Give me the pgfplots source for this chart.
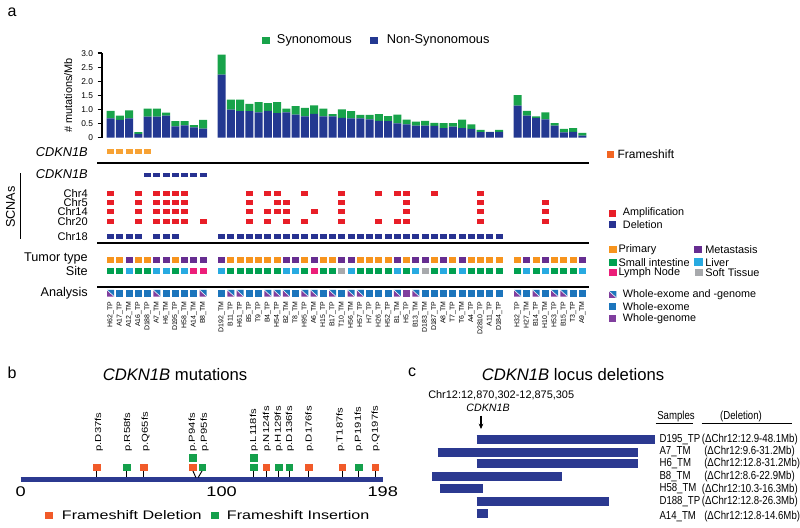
\documentclass[border=0pt]{standalone}
\usepackage{pgfplots}
\usepackage{pgfplotstable}
\pgfplotsset{compat=1.18}
\usetikzlibrary{arrows.meta}
\usepackage{fontspec}
\setmainfont{Liberation Sans}
\newfontfamily\widefont[FakeStretch=1.3]{Liberation Sans}
\newfontfamily\narrowfont[FakeStretch=0.83]{Liberation Sans}
\newcommand{\fsz}[1]{\fontsize{#1pt}{#1pt}\selectfont}

\definecolor{nonsyn}{RGB}{35,56,145}
\definecolor{syn}{RGB}{24,163,74}
\definecolor{fsorange}{RGB}{247,162,52}
\definecolor{fslegend}{RGB}{242,101,34}
\definecolor{ampred}{RGB}{232,30,40}
\definecolor{delblue}{RGB}{40,50,145}
\definecolor{primary}{RGB}{247,148,29}
\definecolor{metast}{RGB}{102,45,145}
\definecolor{smallint}{RGB}{0,160,80}
\definecolor{liver}{RGB}{39,170,225}
\definecolor{lymph}{RGB}{236,30,121}
\definecolor{soft}{RGB}{167,169,172}
\definecolor{wexome}{RGB}{28,117,188}
\definecolor{wgenome}{RGB}{128,62,158}
\definecolor{fsdel}{RGB}{241,90,41}
\definecolor{fsins}{RGB}{20,160,75}
\definecolor{protein}{RGB}{43,57,144}

\pgfdeclareplotmark{cellS}{\pgfpathrectangle{\pgfpoint{-2.55pt}{-1.8pt}}{\pgfpoint{5.1pt}{3.6pt}}\pgfusepathqfill}
\pgfdeclareplotmark{cellL}{\pgfpathrectangle{\pgfpoint{-2.7pt}{-2.5pt}}{\pgfpoint{5.4pt}{5pt}}\pgfusepathqfill}
\pgfdeclareplotmark{legsq}{\pgfpathrectangle{\pgfpoint{-3.2pt}{-2.7pt}}{\pgfpoint{6.4pt}{5.4pt}}\pgfusepathqfill}
\pgfdeclareplotmark{split}{%
  \pgfsetfillcolor{wgenome}%
  \pgfpathmoveto{\pgfpoint{-2.7pt}{2.5pt}}\pgfpathlineto{\pgfpoint{-2.7pt}{-2.5pt}}\pgfpathlineto{\pgfpoint{2.7pt}{-2.5pt}}\pgfpathclose\pgfusepathqfill
  \pgfsetfillcolor{wexome}%
  \pgfpathmoveto{\pgfpoint{-2.7pt}{2.5pt}}\pgfpathlineto{\pgfpoint{2.7pt}{2.5pt}}\pgfpathlineto{\pgfpoint{2.7pt}{-2.5pt}}\pgfpathclose\pgfusepathqfill
  \pgfsetstrokecolor{white}\pgfsetlinewidth{0.4pt}%
  \pgfpathmoveto{\pgfpoint{-2.7pt}{2.5pt}}\pgfpathlineto{\pgfpoint{2.7pt}{-2.5pt}}\pgfusepathqstroke
}

\pgfplotstableread{
x ns s
0 0.69 0.26
1 0.63 0.15
2 0.69 0.28
3 0.14 0.06
4 0.75 0.28
5 0.75 0.28
6 0.78 0.11
7 0.40 0.19
8 0.44 0.15
9 0.37 0.08
10 0.32 0.31
12 2.24 0.71
13 1.00 0.35
14 0.94 0.41
15 0.94 0.26
16 0.90 0.36
17 0.95 0.28
18 0.87 0.39
19 0.90 0.13
20 0.82 0.30
21 0.76 0.30
22 0.85 0.30
23 0.76 0.27
24 0.76 0.08
25 0.70 0.31
26 0.69 0.25
27 0.69 0.12
28 0.65 0.16
29 0.60 0.24
30 0.59 0.18
31 0.51 0.31
32 0.47 0.17
33 0.43 0.14
34 0.43 0.17
35 0.42 0.11
36 0.34 0.18
37 0.39 0.13
38 0.34 0.30
39 0.31 0.16
40 0.20 0.08
41 0.20 0.01
42 0.21 0.07
44 1.14 0.37
45 0.78 0.17
46 0.70 0.06
47 0.65 0.25
48 0.43 0.09
49 0.19 0.12
50 0.21 0.13
51 0.07 0.10
}\bardata

\begin{document}
\begin{tikzpicture}
\useasboundingbox (0,0) rectangle (600pt,396pt);

% ---------------- canvas (pixel coordinates) ----------------
\begin{axis}[at={(0pt,0pt)}, anchor=south west, scale only axis,
  width=600pt, height=396pt, xmin=0, xmax=800, ymin=0, ymax=528,
  y dir=reverse, hide axis, clip=false]
% panel letters
\node[font=\fsz{12}] at (axis cs:12,12) {a};
\node[font=\fsz{12}] at (axis cs:12,373) {b};
\node[font=\fsz{12}] at (axis cs:412,372) {c};
% top legend
\addplot[only marks, mark=legsq, color=syn] coordinates {(265.8,40.8)};
\addplot[only marks, mark=legsq, color=nonsyn] coordinates {(374,40.8)};
\node[anchor=west, inner sep=0pt, font=\fsz{9.6}] at (axis cs:276.7,40.8) {Synonomous};
\node[anchor=west, inner sep=0pt, font=\fsz{9.6}] at (axis cs:386.7,40.8) {Non-Synonomous};
% row labels
\node[anchor=east, inner sep=0pt, font=\fsz{9.6}\itshape] at (axis cs:88,152) {CDKN1B};
\node[anchor=east, inner sep=0pt, font=\fsz{9.6}\itshape] at (axis cs:88,174.5) {CDKN1B};
\node[anchor=east, inner sep=0pt, font=\fsz{8.3}] at (axis cs:88,193.3) {Chr4};
\node[anchor=east, inner sep=0pt, font=\fsz{8.3}] at (axis cs:88,202.6) {Chr5};
\node[anchor=east, inner sep=0pt, font=\fsz{8.3}] at (axis cs:88,211.9) {Chr14};
\node[anchor=east, inner sep=0pt, font=\fsz{8.3}] at (axis cs:88,221.2) {Chr20};
\node[anchor=east, inner sep=0pt, font=\fsz{8.3}] at (axis cs:88,236.7) {Chr18};
\node[anchor=east, inner sep=0pt, font=\fsz{9.5}] at (axis cs:88,258.5) {Tumor type};
\node[anchor=east, inner sep=0pt, font=\fsz{9.5}] at (axis cs:88,271) {Site};
\node[anchor=east, inner sep=0pt, font=\fsz{9.5}] at (axis cs:88,293.3) {Analysis};
\node[rotate=90, inner sep=0pt, font=\fsz{9.5}] at (axis cs:10.5,207) {SCNAs};
\draw[line width=0.6pt] (axis cs:20.7,173) -- (axis cs:20.7,239.3);
% right legends panel a
\addplot[only marks, mark=square*, mark size=2.2pt, color=fslegend] coordinates {(610,154)};
\node[anchor=west, inner sep=0pt, font=\fsz{9}] at (axis cs:617.3,154) {Frameshift};
\addplot[only marks, mark=square*, mark size=2.4pt, color=ampred] coordinates {(612.2,213)};
\addplot[only marks, mark=square*, mark size=2.4pt, color=delblue] coordinates {(612.2,224.5)};
\node[anchor=west, inner sep=0pt, font=\fsz{8.1}] at (axis cs:622.7,212.7) {Amplification};
\node[anchor=west, inner sep=0pt, font=\fsz{8.1}] at (axis cs:622.7,224.7) {Deletion};
\addplot[only marks, mark=legsq, color=primary] coordinates {(612.8,249.7)};
\addplot[only marks, mark=legsq, color=smallint] coordinates {(612.8,262.4)};
\addplot[only marks, mark=legsq, color=lymph] coordinates {(612.8,272.7)};
\addplot[only marks, mark=legsq, color=metast] coordinates {(697.8,249.7)};
\addplot[only marks, mark=legsq, color=liver] coordinates {(698.3,262)};
\addplot[only marks, mark=legsq, color=soft] coordinates {(698.8,272.7)};
\node[anchor=west, inner sep=0pt, font=\fsz{8.2}] at (axis cs:618.3,250) {Primary};
\node[anchor=west, inner sep=0pt, font=\fsz{8.2}] at (axis cs:618.3,262.5) {Small intestine};
\node[anchor=west, inner sep=0pt, font=\fsz{8.2}] at (axis cs:618.3,272.9) {Lymph Node};
\node[anchor=west, inner sep=0pt, font=\fsz{8.2}] at (axis cs:705,250) {Metastasis};
\node[anchor=west, inner sep=0pt, font=\fsz{8.2}] at (axis cs:705,262.5) {Liver};
\node[anchor=west, inner sep=0pt, font=\fsz{8.2}] at (axis cs:705,272.9) {Soft Tissue};
\addplot[only marks, mark=split] coordinates {(612.8,294.5)};
\addplot[only marks, mark=cellL, color=wexome] coordinates {(612.8,306.7)};
\addplot[only marks, mark=cellL, color=wgenome] coordinates {(612.8,318.3)};
\node[anchor=west, inner sep=0pt, font=\fsz{8.1}] at (axis cs:622.7,294.5) {Whole-exome and -genome};
\node[anchor=west, inner sep=0pt, font=\fsz{8.1}] at (axis cs:622.7,306.7) {Whole-exome};
\node[anchor=west, inner sep=0pt, font=\fsz{8.1}] at (axis cs:622.7,318.3) {Whole-genome};
% panel b title, labels, legend
\node[font=\fsz{12.5}] at (axis cs:175,375) {\textit{CDKN1B} mutations};
\node[rotate=90, anchor=west, inner sep=0pt, font=\widefont\fsz{6.5}] at (axis cs:99,451.7) {p.D37fs};
\node[rotate=90, anchor=west, inner sep=0pt, font=\widefont\fsz{6.5}] at (axis cs:128,451.7) {p.R58fs};
\node[rotate=90, anchor=west, inner sep=0pt, font=\widefont\fsz{6.5}] at (axis cs:145.7,451.7) {p.Q65fs};
\node[rotate=90, anchor=west, inner sep=0pt, font=\widefont\fsz{6.5}] at (axis cs:192.7,451.7) {p.P94fs};
\node[rotate=90, anchor=west, inner sep=0pt, font=\widefont\fsz{6.5}] at (axis cs:204.7,451.7) {p.P95fs};
\node[rotate=90, anchor=west, inner sep=0pt, font=\widefont\fsz{6.5}] at (axis cs:254,451.7) {p.L118fs};
\node[rotate=90, anchor=west, inner sep=0pt, font=\widefont\fsz{6.5}] at (axis cs:267,451.7) {p.N124fs};
\node[rotate=90, anchor=west, inner sep=0pt, font=\widefont\fsz{6.5}] at (axis cs:278.7,451.7) {p.H129fs};
\node[rotate=90, anchor=west, inner sep=0pt, font=\widefont\fsz{6.5}] at (axis cs:290,451.7) {p.D136fs};
\node[rotate=90, anchor=west, inner sep=0pt, font=\widefont\fsz{6.5}] at (axis cs:309.3,451.7) {p.D176fs};
\node[rotate=90, anchor=west, inner sep=0pt, font=\widefont\fsz{6.5}] at (axis cs:340.3,451.7) {p.T187fs};
\node[rotate=90, anchor=west, inner sep=0pt, font=\widefont\fsz{6.5}] at (axis cs:358.7,451.7) {p.P191fs};
\node[rotate=90, anchor=west, inner sep=0pt, font=\widefont\fsz{6.5}] at (axis cs:375.7,451.7) {p.Q197fs};
\addplot[only marks, mark=legsq, color=fsdel] coordinates {(49.2,515.5)};
\addplot[only marks, mark=legsq, color=fsins] coordinates {(215,515.5)};
\node[anchor=west, inner sep=0pt, font=\widefont\fsz{9.3}] at (axis cs:61.7,515.5) {Frameshift Deletion};
\node[anchor=west, inner sep=0pt, font=\widefont\fsz{9.3}] at (axis cs:226.7,515.5) {Frameshift Insertion};
% panel c
\node[font=\fsz{12.5}] at (axis cs:573,375) {\textit{CDKN1B} locus deletions};
\node[anchor=west, inner sep=0pt, font=\fsz{8.2}] at (axis cs:428,395) {Chr12:12,870,302-12,875,305};
\node[inner sep=0pt, font=\fsz{8}\itshape] at (axis cs:488,408) {CDKN1B};
\draw[-{Stealth[length=4pt,width=3.5pt]}, line width=0.8pt] (axis cs:481,415.5) -- (axis cs:481,429);
\addplot[protein, line width=6.75pt] coordinates {(476.7,439.5) (655,439.5)};
\addplot[protein, line width=6.75pt] coordinates {(437.7,452) (637.7,452)};
\addplot[protein, line width=6.75pt] coordinates {(476.7,463.5) (637.7,463.5)};
\addplot[protein, line width=6.75pt] coordinates {(432,476) (561.7,476)};
\addplot[protein, line width=6.75pt] coordinates {(440,488.8) (483.3,488.8)};
\addplot[protein, line width=6.75pt] coordinates {(476.7,501) (609,501)};
\addplot[protein, line width=6.75pt] coordinates {(476.7,513.7) (487.7,513.7)};
\node[anchor=west, inner sep=0pt, font=\narrowfont\fsz{8.7}] at (axis cs:657,416.7) {Samples};
\node[inner sep=0pt, font=\narrowfont\fsz{8.7}] at (axis cs:741,416.7) {(Deletion)};
\draw[line width=0.6pt] (axis cs:655.7,423) -- (axis cs:693,423);
\draw[line width=0.6pt] (axis cs:701.7,423) -- (axis cs:791.7,423);
\node[anchor=west, inner sep=0pt, font=\narrowfont\fsz{8.7}] at (axis cs:659.3,439.3) {D195\_TP};
\node[anchor=west, inner sep=0pt, font=\narrowfont\fsz{8.7}] at (axis cs:701.7,439.3) {(ΔChr12:12.9-48.1Mb)};
\node[anchor=west, inner sep=0pt, font=\narrowfont\fsz{8.7}] at (axis cs:659.3,451.7) {A7\_TM};
\node[anchor=west, inner sep=0pt, font=\narrowfont\fsz{8.7}] at (axis cs:704,451.7) {(ΔChr12:9.6-31.2Mb)};
\node[anchor=west, inner sep=0pt, font=\narrowfont\fsz{8.7}] at (axis cs:659.3,463.3) {H6\_TM};
\node[anchor=west, inner sep=0pt, font=\narrowfont\fsz{8.7}] at (axis cs:704,463.3) {(ΔChr12:12.8-31.2Mb)};
\node[anchor=west, inner sep=0pt, font=\narrowfont\fsz{8.7}] at (axis cs:659.3,476.7) {B8\_TM};
\node[anchor=west, inner sep=0pt, font=\narrowfont\fsz{8.7}] at (axis cs:704,476.7) {(ΔChr12:8.6-22.9Mb)};
\node[anchor=west, inner sep=0pt, font=\narrowfont\fsz{8.7}] at (axis cs:659.3,489) {H58\_TM};
\node[anchor=west, inner sep=0pt, font=\narrowfont\fsz{8.7}] at (axis cs:701.7,489) {(ΔChr12:10.3-16.3Mb)};
\node[anchor=west, inner sep=0pt, font=\narrowfont\fsz{8.7}] at (axis cs:659.3,501.3) {D188\_TP};
\node[anchor=west, inner sep=0pt, font=\narrowfont\fsz{8.7}] at (axis cs:701.7,501.3) {(ΔChr12:12.8-26.3Mb)};
\node[anchor=west, inner sep=0pt, font=\narrowfont\fsz{8.7}] at (axis cs:659.3,516.7) {A14\_TM};
\node[anchor=west, inner sep=0pt, font=\narrowfont\fsz{8.7}] at (axis cs:704,516.7) {(ΔChr12:12.8-14.6Mb)};
\end{axis}

% ---------------- bar chart ----------------
\begin{axis}[at={(76.275pt,292.725pt)}, anchor=south west, scale only axis,
  width=363.975pt, height=63.3pt, xmin=-0.965, xmax=51.5, ymin=0, ymax=3,
  ybar stacked, bar width=0.86,
  axis x line=none, axis y line*=left,
  y axis line style={line width=1.6pt},
  ytick={0,0.5,1,1.5,2,2.5,3}, yticklabels={0,0.5,1.0,1.5,2.0,2.5,3.0},
  tick align=outside, major tick length=3pt,
  ytick style={line width=1.2pt, black},
  yticklabel style={font=\fsz{6.3}},
  ylabel={\# mutations/Mb}, ylabel style={font=\fsz{8.2}},
  clip=false]
\addplot[fill=nonsyn, draw=none] table[x=x, y=ns] {\bardata};
\addplot[fill=syn, draw=none] table[x=x, y=s] {\bardata};
\end{axis}

% ---------------- oncoprint ----------------
\begin{axis}[at={(72.75pt,286.5pt)}, anchor=north west, scale only axis,
  width=369pt, height=115.5pt, xmin=-1.473, xmax=51.716, ymin=146, ymax=300,
  y dir=reverse, axis line style={draw=none}, ytick=\empty,
  xtick={0,1,...,10,12,13,...,42,44,45,...,51},
  xticklabels={H62\_TP,A17\_TP,A12\_TM,A16\_TP,D188\_TP,A7\_TM,H6\_TM,D195\_TP,H58\_TM,A14\_TM,B8\_TM,D192\_TM,B11\_TP,H61\_TP,B5\_TP,T9\_TP,B4\_TP,H54\_TP,B2\_TM,T8\_TM,H95\_TP,A6\_TM,H15\_TP,B17\_TP,T10\_TM,H56\_TM,H57\_TP,H7\_TP,H26\_TP,H52\_TP,B1\_TM,H5\_TP,B13\_TM,D183\_TM,D187\_TP,A8\_TM,T7\_TP,T6\_TM,A4\_TP,D2810\_TP,A11\_TP,D184\_TP,H32\_TP,H27\_TM,B14\_TP,H10\_TM,H53\_TP,B15\_TP,T3\_TP,A9\_TM},
  major tick length=0,
  xticklabel style={rotate=90, anchor=east, font=\fsz{5.2}, inner sep=1pt},
  clip=false]
% separators
\addplot[black, line width=1.3pt] coordinates {(-1.473,162.7) (51.716,162.7)};
\addplot[black, line width=1.3pt] coordinates {(-1.473,242.7) (51.716,242.7)};
\addplot[black, line width=1.3pt] coordinates {(-1.473,286.7) (51.716,286.7)};
% CDKN1B mutation
\addplot[only marks, mark=cellS, color=fsorange] coordinates {(0,151.7)(1,151.7)(2,151.7)(3,151.7)(4,151.7)};
% CDKN1B deletion
\addplot[only marks, mark=cellS, color=delblue] coordinates {(4,175)(5,175)(6,175)(7,175)(8,175)(9,175)(10,175)};
% Chr4
\addplot[only marks, mark=cellS, color=ampred] coordinates {(0,193.3)(3,193.3)(5,193.3)(6,193.3)(7,193.3)(8,193.3)(15,193.3)(17,193.3)(18,193.3)(21,193.3)(25,193.3)(29,193.3)(31,193.3)(32,193.3)(35,193.3)(40,193.3)};
% Chr5
\addplot[only marks, mark=cellS, color=ampred] coordinates {(0,202.6)(3,202.6)(5,202.6)(6,202.6)(7,202.6)(8,202.6)(15,202.6)(18,202.6)(19,202.6)(25,202.6)(32,202.6)(40,202.6)(47,202.6)};
% Chr14
\addplot[only marks, mark=cellS, color=ampred] coordinates {(0,211.9)(3,211.9)(5,211.9)(6,211.9)(7,211.9)(8,211.9)(15,211.9)(17,211.9)(18,211.9)(19,211.9)(22,211.9)(25,211.9)(32,211.9)(40,211.9)(47,211.9)};
% Chr20
\addplot[only marks, mark=cellS, color=ampred] coordinates {(0,221.2)(3,221.2)(5,221.2)(6,221.2)(7,221.2)(8,221.2)(10,221.2)(15,221.2)(17,221.2)(19,221.2)(21,221.2)(25,221.2)(29,221.2)(31,221.2)(32,221.2)(40,221.2)(47,221.2)};
% Chr18
\addplot[only marks, mark=cellS, color=delblue] coordinates {(0,236.7)(1,236.7)(2,236.7)(3,236.7)(5,236.7)(6,236.7)(7,236.7)(12,236.7)(13,236.7)(14,236.7)(15,236.7)(16,236.7)(17,236.7)(18,236.7)(19,236.7)(20,236.7)(21,236.7)(22,236.7)(23,236.7)(24,236.7)(25,236.7)(26,236.7)(27,236.7)(28,236.7)(29,236.7)(30,236.7)(31,236.7)(32,236.7)(33,236.7)(34,236.7)(35,236.7)(36,236.7)(37,236.7)(38,236.7)(39,236.7)(40,236.7)(41,236.7)(42,236.7)};
% Tumor type
\addplot[only marks, mark=cellL, color=primary] coordinates {(0,260)(1,260)(3,260)(4,260)(7,260)(13,260)(14,260)(15,260)(16,260)(17,260)(18,260)(21,260)(23,260)(24,260)(27,260)(28,260)(29,260)(30,260)(32,260)(35,260)(37,260)(39,260)(40,260)(41,260)(42,260)(44,260)(46,260)(48,260)(49,260)(50,260)};
\addplot[only marks, mark=cellL, color=metast] coordinates {(2,260)(5,260)(6,260)(8,260)(9,260)(10,260)(12,260)(19,260)(20,260)(22,260)(25,260)(26,260)(31,260)(33,260)(34,260)(36,260)(38,260)(45,260)(47,260)(51,260)};
% Site
\addplot[only marks, mark=cellL, color=smallint] coordinates {(0,271)(1,271)(3,271)(4,271)(7,271)(13,271)(14,271)(15,271)(16,271)(17,271)(18,271)(21,271)(23,271)(24,271)(27,271)(28,271)(29,271)(30,271)(32,271)(35,271)(37,271)(39,271)(40,271)(41,271)(42,271)(44,271)(46,271)(48,271)(49,271)(50,271)};
\addplot[only marks, mark=cellL, color=liver] coordinates {(2,271)(5,271)(6,271)(8,271)(12,271)(19,271)(20,271)(26,271)(31,271)(33,271)(36,271)(38,271)(45,271)(47,271)(51,271)};
\addplot[only marks, mark=cellL, color=lymph] coordinates {(9,271)(10,271)(22,271)};
\addplot[only marks, mark=cellL, color=soft] coordinates {(25,271)(34,271)};
% Analysis
\addplot[only marks, mark=cellL, color=wexome] coordinates {(1,293.3)(2,293.3)(3,293.3)(4,293.3)(6,293.3)(7,293.3)(8,293.3)(9,293.3)(12,293.3)(15,293.3)(16,293.3)(20,293.3)(23,293.3)(25,293.3)(28,293.3)(29,293.3)(30,293.3)(34,293.3)(35,293.3)(36,293.3)(37,293.3)(38,293.3)(39,293.3)(40,293.3)(41,293.3)(42,293.3)(45,293.3)(47,293.3)(50,293.3)(51,293.3)};
\addplot[only marks, mark=cellL, color=wgenome] coordinates {(32,293.3)};
\addplot[only marks, mark=split] coordinates {(0,293.3)(5,293.3)(10,293.3)(13,293.3)(14,293.3)(17,293.3)(18,293.3)(19,293.3)(21,293.3)(22,293.3)(24,293.3)(26,293.3)(27,293.3)(31,293.3)(33,293.3)(44,293.3)(46,293.3)(48,293.3)(49,293.3)};
\end{axis}

% ---------------- panel b protein axis ----------------
\begin{axis}[at={(15.525pt,34.5pt)}, anchor=south west, scale only axis,
  width=271.5pt, height=31.5pt, xmin=0, xmax=198, ymin=440, ymax=482,
  y dir=reverse, axis line style={draw=none}, ytick=\empty,
  xtick={0,109.9,198}, xticklabels={0,100,198}, major tick length=0,
  xticklabel style={font=\widefont\fsz{10.5}},
  clip=false]
\addplot[protein, line width=3.75pt] coordinates {(0,479.2) (198,479.2)};
\addplot[black, line width=0.7pt] coordinates {(41.6,470.5) (41.6,477.5)};
\addplot[black, line width=0.7pt] coordinates {(58.1,470.5) (58.1,477.5)};
\addplot[black, line width=0.7pt] coordinates {(67.4,470.5) (67.4,477.5)};
\addplot[black, line width=0.7pt] coordinates {(94.1,470.5) (95.8,477.5)};
\addplot[black, line width=0.7pt] coordinates {(99.3,470.5) (97.1,477.5)};
\addplot[black, line width=0.7pt] coordinates {(127.5,470.5) (127.5,477.5)};
\addplot[black, line width=0.7pt] coordinates {(134.2,470.5) (134.2,477.5)};
\addplot[black, line width=0.7pt] coordinates {(141.1,470.5) (141.1,477.5)};
\addplot[black, line width=0.7pt] coordinates {(146.9,470.5) (146.9,477.5)};
\addplot[black, line width=0.7pt] coordinates {(157.5,470.5) (157.5,477.5)};
\addplot[black, line width=0.7pt] coordinates {(175.9,470.5) (175.9,477.5)};
\addplot[black, line width=0.7pt] coordinates {(184.9,470.5) (184.9,477.5)};
\addplot[black, line width=0.7pt] coordinates {(193.8,470.5) (193.8,477.5)};
\addplot[only marks, mark=square*, mark size=2.4pt, color=fsdel] coordinates {(41.6,467) (67.4,467) (94.1,467) (134.2,467) (157.5,467) (175.9,467) (193.8,467)};
\addplot[only marks, mark=square*, mark size=2.4pt, color=fsins] coordinates {(58.1,467) (94.1,457.7) (99.3,467) (127.5,467) (127.5,457.7) (141.1,467) (146.9,467) (184.9,467)};
\end{axis}
\end{tikzpicture}
\end{document}
